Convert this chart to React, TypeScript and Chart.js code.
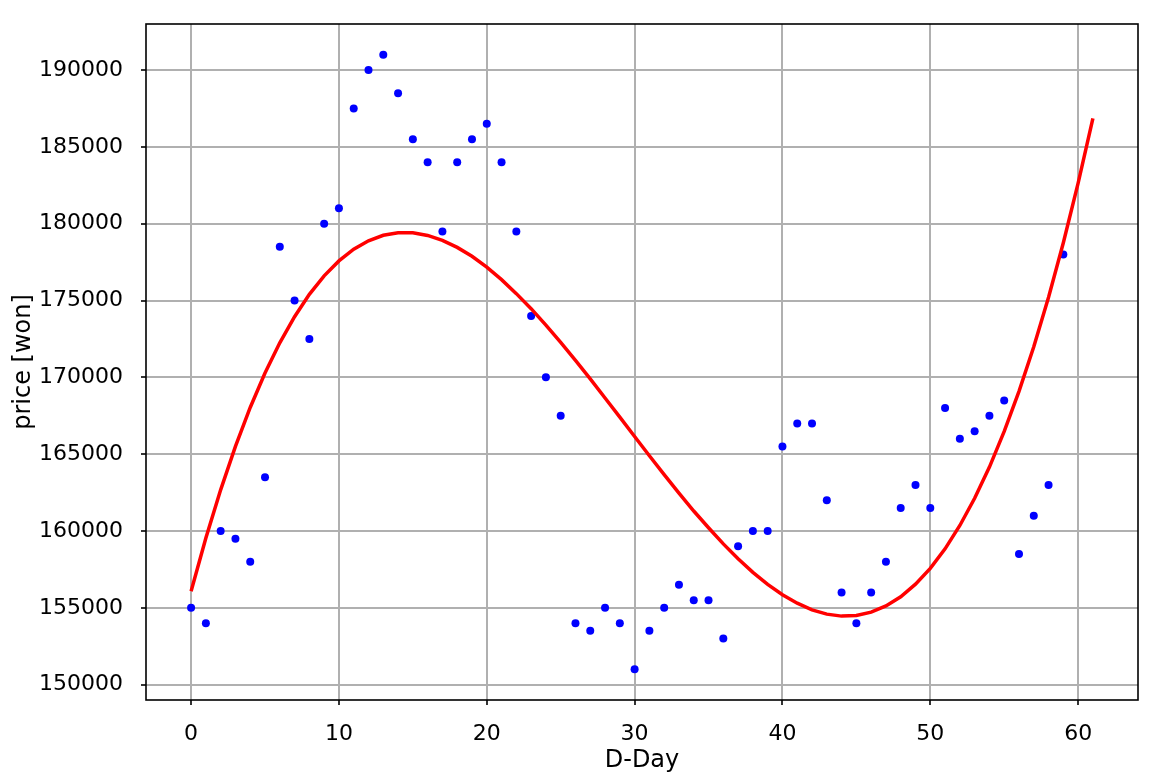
import React, { useEffect, useRef } from "react";
import { Chart, registerables } from "chart.js";

Chart.register(...registerables);

const days = [
  0, 1, 2, 3, 4, 5, 6, 7, 8, 9, 10, 11, 12, 13, 14, 15, 16, 17, 18, 19,
  20, 21, 22, 23, 24, 25, 26, 27, 28, 29, 30, 31, 32, 33, 34, 35, 36, 37, 38, 39,
  40, 41, 42, 43, 44, 45, 46, 47, 48, 49, 50, 51, 52, 53, 54, 55, 56, 57, 58, 59,
];

const prices = [
  155000, 154000, 160000, 159500, 158000, 163500, 178500, 175000, 172500, 180000,
  181000, 187500, 190000, 191000, 188500, 185500, 184000, 179500, 184000, 185500,
  186500, 184000, 179500, 174000, 170000, 167500, 154000, 153500, 155000, 154000,
  151000, 153500, 155000, 156500, 155500, 155500, 153000, 159000, 160000, 160000,
  165500, 167000, 167000, 162000, 156000, 154000, 156000, 158000, 161500, 163000,
  161500, 168000, 166000, 166500, 167500, 168500, 158500, 161000, 163000, 178000,
];

const fitDays = [
  0, 1, 2, 3, 4, 5, 6, 7, 8, 9, 10, 11, 12, 13, 14, 15, 16, 17, 18, 19, 20,
  21, 22, 23, 24, 25, 26, 27, 28, 29, 30, 31, 32, 33, 34, 35, 36, 37, 38, 39, 40,
  41, 42, 43, 44, 45, 46, 47, 48, 49, 50, 51, 52, 53, 54, 55, 56, 57, 58, 59, 60, 61,
];

const fitPrices = [
  156080, 159540, 162680, 165510, 168040, 170280, 172250, 173950, 175400, 176610,
  177580, 178340, 178890, 179250, 179410, 179410, 179240, 178920, 178460, 177880,
  177170, 176360, 175450, 174470, 173400, 172280, 171110, 169900, 168660, 167410,
  166150, 164900, 163670, 162470, 161300, 160210, 159160, 158190, 157310, 156530,
  155850, 155300, 154870, 154590, 154460, 154500, 154720, 155120, 155720, 156540,
  157570, 158840, 160360, 162130, 164160, 166480, 169090, 171990, 175210, 178760,
  182640, 186860,
];

const xTicks = [0, 10, 20, 30, 40, 50, 60];
const yTicks = [150000, 155000, 160000, 165000, 170000, 175000, 180000, 185000, 190000];

const FAMILY = "'DejaVu Sans', sans-serif";

export default function App() {
  const ref = useRef<HTMLCanvasElement>(null);

  useEffect(() => {
    if (!ref.current) return;
    const framePlugin = {
      id: "frame",
      afterDatasetsDraw(chart: any) {
        const { ctx, chartArea: a } = chart;
        ctx.save();
        ctx.strokeStyle = "#000";
        ctx.lineWidth = 1.6;
        ctx.strokeRect(a.left, a.top, a.right - a.left, a.bottom - a.top);
        ctx.restore();
      },
    };

    const gridOpts = {
      color: "#b0b0b0",
      lineWidth: 2,
      tickLength: 5,
      tickColor: "#000",
      tickWidth: 1.6,
    };

    const zeroPad = (s: any) => {
      s.paddingTop = 0;
      s.paddingBottom = 0;
      s.paddingLeft = 0;
      s.paddingRight = 0;
    };

    const chart = new Chart(ref.current, {
      type: "scatter",
      data: {
        datasets: [
          {
            label: "fit",
            data: fitDays.map((x, i) => ({ x, y: fitPrices[i] })),
            showLine: true,
            borderColor: "#ff0000",
            backgroundColor: "#ff0000",
            borderWidth: 3.5,
            pointRadius: 0,
            tension: 0,
            order: 0,
          },
          {
            label: "price",
            data: days.map((x, i) => ({ x, y: prices[i] })),
            backgroundColor: "#0000ff",
            borderColor: "#0000ff",
            borderWidth: 0,
            pointRadius: 4,
            order: 1,
          },
        ],
      },
      options: {
        animation: false,
        responsive: false,
        devicePixelRatio: 1,
        layout: { padding: { left: 0, top: 24, right: 37, bottom: 0 } },
        plugins: { legend: { display: false }, tooltip: { enabled: false } },
        scales: {
          x: {
            type: "linear",
            min: -3.05,
            max: 64.05,
            afterBuildTicks: (s: any) => {
              s.ticks = xTicks.map((v) => ({ value: v }));
            },
            afterFit: (s: any) => {
              s.height = 83;
              zeroPad(s);
            },
            grid: gridOpts,
            border: { display: false },
            ticks: {
              color: "#000",
              font: { family: FAMILY, size: 22 },
              padding: 16,
              maxRotation: 0,
              callback: (v: any) => String(v),
            },
            title: {
              display: true,
              text: "D-Day",
              color: "#000",
              font: { family: FAMILY, size: 24 },
              padding: { top: 0, bottom: 8 },
            },
          },
          y: {
            type: "linear",
            min: 149000,
            max: 193000,
            afterBuildTicks: (s: any) => {
              s.ticks = yTicks.map((v) => ({ value: v }));
            },
            afterFit: (s: any) => {
              s.width = 146;
              zeroPad(s);
            },
            grid: gridOpts,
            border: { display: false },
            ticks: {
              color: "#000",
              font: { family: FAMILY, size: 22 },
              padding: 18,
              callback: (v: any) => String(v),
            },
            title: {
              display: true,
              text: "price [won]",
              color: "#000",
              font: { family: FAMILY, size: 24 },
              padding: { top: 9, bottom: 0 },
            },
          },
        },
      },
      plugins: [framePlugin],
    } as any);

    return () => chart.destroy();
  }, []);

  return (
    <div
      style={{
        position: "fixed",
        left: 0,
        top: 0,
        width: 1175,
        height: 783,
        background: "#fff",
      }}
    >
      <canvas ref={ref} width={1175} height={783} style={{ width: 1175, height: 783 }} />
    </div>
  );
}
